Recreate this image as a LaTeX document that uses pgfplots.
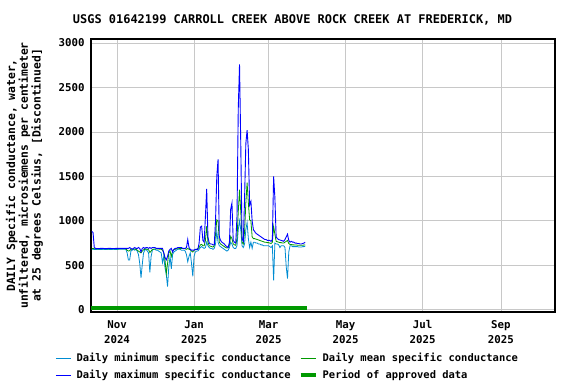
\documentclass[border=0pt]{standalone}
\usepackage{pgfplots}
\pgfplotsset{compat=1.18}
\usepackage{fontspec}
\setmainfont{DejaVu Sans Mono}
\definecolor{cmin}{RGB}{0,140,210}
\definecolor{cmax}{RGB}{0,0,255}
\definecolor{cmean}{RGB}{0,153,0}
\definecolor{cgrid}{RGB}{200,200,200}
\begin{document}
\bfseries
\begin{tikzpicture}
\useasboundingbox (0,0) rectangle (576bp,384bp);
\begin{axis}[
  at={(91bp,72bp)}, anchor=south west,
  scale only axis, width=464bp, height=273bp,
  xmin=10.4, xmax=377.8, ymin=-25, ymax=3045,
  xtick={31,92,151,212,273,335},
  xticklabels={Nov\\2024,Jan\\2025,Mar\\2025,May\\2025,Jul\\2025,Sep\\2025},
  xticklabel style={align=center, yshift=-5bp, font=\fontsize{10.8}{15}\selectfont},
  ytick={0,500,1000,1500,2000,2500,3000},
  yticklabel style={xshift=-3bp, font=\fontsize{10.8}{12}\selectfont},
  /pgf/number format/assume math mode=true,
  /pgf/number format/1000 sep={},
  major tick length=0pt,
  grid=major, grid style={cgrid, line width=0.8bp},
  axis line style={black, line width=1.2bp},
  legend columns=2,
  legend cell align=left,
  legend style={at={(-0.0776,-0.143)}, anchor=north west, draw=none, fill=none,
    inner sep=0pt, font=\fontsize{10.5}{12}\selectfont,
    /tikz/every odd column/.append style={column sep=3bp},
    /tikz/every even column/.append style={column sep=6bp},
    row sep=3bp},
  legend image code/.code={\draw[#1] (0bp,0bp) -- (15bp,0bp);},
]
\addplot[color=cmin, draw=cmin, line width=0.8bp, legend image post style={draw=cmin, line width=1.4bp}] coordinates {
(11,680)(12,680)(14,678)(16,680)(18,678)(20,680)(22,678)(24,680)(26,678)(28,680)(30,678)(32,680)(34,680)(36,680)(38,680)
(39,640)(40,560)(41,560)(42,660)(43,670)(44,680)(45,670)(46,680)(47,660)(48,620)(49,520)(50,360)(51,510)(52,640)(53,670)
(54,680)(55,660)(56,640)(57,420)(58,600)(59,670)(60,680)(61,680)(62,670)(63,670)(64,660)(65,650)(66,640)(67,530)(68,600)
(69,470)(70,400)(71,260)(72,480)(73,600)(74,460)(75,620)(76,650)(77,660)(78,670)(79,680)(80,680)(81,680)(82,670)(83,670)
(84,670)(85,660)(86,620)(87,540)(88,600)(89,640)(90,520)(91,375)(92,600)(93,650)(94,660)(95,660)(96,680)(97,700)(98,710)
(99,700)(100,690)(101,700)(102,760)(103,720)(104,700)(105,690)(106,690)(107,680)(108,690)(109,740)(110,880)(111,760)
(112,720)(113,710)(114,700)(115,690)(116,680)(117,670)(118,660)(119,670)(120,700)(121,760)(122,740)(123,700)(124,690)
(125,690)(126,720)(127,900)(128,1000)(129,900)(130,720)(131,700)(132,740)(133,900)(134,980)(135,800)(136,700)(137,760)
(138,690)(139,760)(140,760)(141,750)(142,750)(143,740)(144,740)(145,730)(146,730)(147,720)(148,720)(149,720)(150,720)
(151,720)(152,710)(153,700)(154,720)(155,330)(156,750)(157,740)(158,740)(159,730)(160,700)(161,720)(162,720)(163,720)
(164,700)(165,480)(166,350)(167,650)(168,720)(169,720)(170,710)(171,710)(172,710)(173,710)(174,710)(175,705)(176,705)
(177,705)(178,710)(179,710)(180,715)
};
\addlegendentry{Daily minimum specific conductance}
\addplot[color=cmean, draw=cmean, line width=0.8bp, legend image post style={draw=cmean, line width=1.4bp}] coordinates {
(11,690)(12,690)(13,686)(16,685)(20,686)(24,685)(28,686)(32,685)(36,686)(38,685)(39,670)(40,660)(41,665)(42,680)
(44,685)(46,680)(47,670)(48,660)(49,650)(50,640)(51,660)(52,675)(54,685)(56,675)(57,645)(58,660)(59,680)(62,685)
(66,680)(67,670)(68,640)(69,560)(70,405)(71,520)(72,640)(73,660)(74,600)(75,660)(76,675)(78,685)(82,690)(85,685)
(86,680)(87,690)(88,680)(89,675)(90,660)(91,650)(92,670)(94,680)(96,700)(97,730)(98,735)(99,720)(100,720)(101,780)
(102,940)(103,760)(104,720)(105,715)(106,710)(107,705)(108,720)(109,850)(110,1011)(111,1000)(112,760)(113,740)
(114,730)(115,720)(116,710)(117,700)(118,695)(119,700)(120,730)(121,825)(122,800)(123,740)(124,730)(125,725)
(126,800)(127,1100)(128,1350)(129,1100)(130,760)(131,740)(132,880)(133,1200)(134,1430)(135,1200)(136,1011)(137,1000)
(138,820)(139,800)(140,800)(141,795)(142,790)(143,785)(144,780)(145,775)(146,770)(147,765)(148,760)(149,760)(150,755)
(151,755)(152,750)(153,745)(154,760)(155,936)(156,850)(157,770)(158,765)(159,760)(160,755)(161,755)(162,750)(163,750)
(164,760)(165,770)(166,780)(167,745)(168,735)(169,735)(170,730)(171,730)(172,728)(173,728)(174,726)(175,726)(176,725)
(177,725)(178,726)(179,728)(180,730)
};
\addlegendentry{Daily mean specific conductance}
\addplot[color=cmax, draw=cmax, line width=0.9bp, legend image post style={draw=cmax, line width=1.4bp}] coordinates {
(11,880)(12,870)(13,700)(14,690)(16,688)(18,690)(20,690)(22,688)(24,690)(26,690)(28,688)(30,690)(32,690)(34,690)
(36,690)(38,690)(40,690)(41,700)(42,690)(43,680)(44,690)(45,700)(46,690)(47,690)(48,700)(49,690)(50,650)(51,690)
(52,700)(53,690)(54,700)(55,700)(56,690)(57,700)(58,690)(59,700)(60,700)(61,700)(62,690)(64,690)(66,690)(67,690)
(68,640)(69,590)(70,560)(71,600)(72,660)(73,680)(74,690)(75,650)(76,680)(77,690)(78,690)(79,700)(80,700)(82,700)
(83,690)(85,690)(86,700)(87,790)(88,700)(89,680)(90,670)(92,670)(93,680)(95,680)(96,750)(97,930)(98,940)(99,780)
(100,760)(101,1050)(102,1360)(103,820)(104,750)(105,740)(106,740)(107,730)(108,730)(109,1000)(110,1500)(111,1690)
(112,820)(113,780)(114,760)(115,750)(116,740)(117,720)(118,710)(119,700)(120,760)(121,1130)(122,1200)(123,780)
(124,760)(125,750)(126,1050)(127,2260)(128,2760)(129,1850)(130,800)(131,770)(132,1250)(133,1870)(134,2020)(135,1800)
(136,1180)(137,1220)(138,1000)(139,900)(140,880)(141,860)(142,850)(143,840)(144,830)(145,820)(146,810)(147,800)
(148,790)(149,790)(150,780)(151,780)(152,780)(153,770)(154,790)(155,1500)(156,1260)(157,820)(158,800)(159,790)
(160,785)(161,780)(162,775)(163,770)(164,790)(165,820)(166,850)(167,780)(168,760)(169,770)(170,760)(171,760)
(172,750)(173,750)(174,745)(175,745)(176,740)(177,740)(178,745)(179,750)(180,760)
};
\addlegendentry{Daily maximum specific conductance}
\addplot[color=cmean, draw=cmean, line width=4bp] coordinates {(9.6,25)(181.2,25)};
\addlegendentry{Period of approved data}
\end{axis}
\node[font=\fontsize{12}{14}\selectfont] at (292.5bp,364bp) {USGS 01642199 CARROLL CREEK ABOVE ROCK CREEK AT FREDERICK, MD};
\node[rotate=90, align=center, font=\fontsize{11.4}{12.8}\selectfont] at (24.5bp,208.5bp)
  {DAILY Specific conductance, water,\\unfiltered, microsiemens per centimeter\\at 25 degrees Celsius, [Discontinued]};
\end{tikzpicture}
\end{document}
